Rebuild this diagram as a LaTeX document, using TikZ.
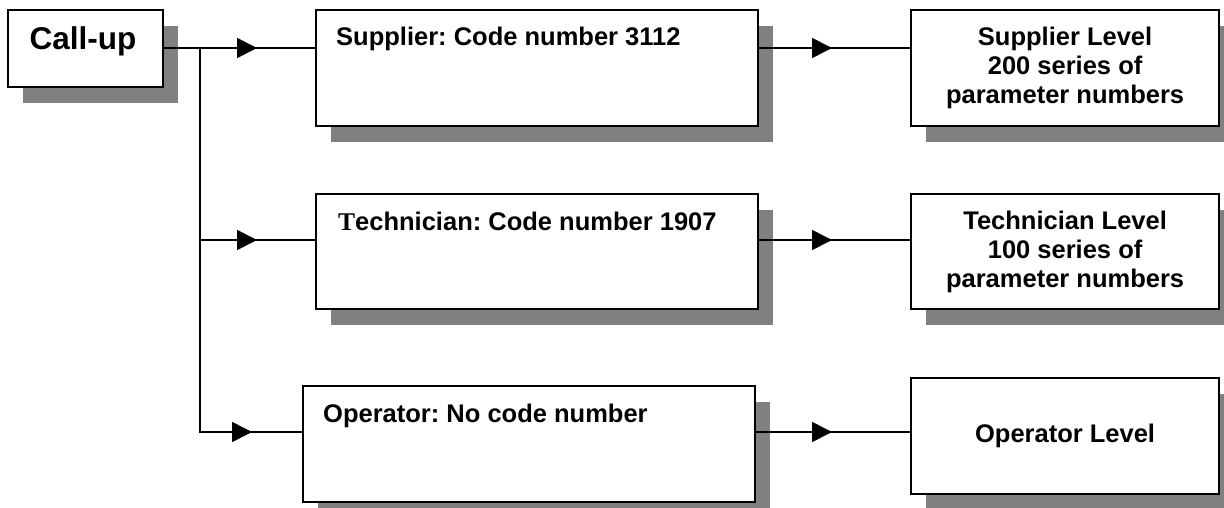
\documentclass[tikz,border=0pt]{standalone}
\usepackage{fontspec}
\setmainfont{Liberation Sans}
\newfontfamily\serifT{Liberation Serif}
\usetikzlibrary{shadows,decorations.markings,arrows.meta}
\frenchspacing
\begin{document}
\begin{tikzpicture}[x=1pt,y=-1pt,
  box/.style={draw, line width=2.2pt, fill=white, anchor=north west, inner sep=0pt,
    drop shadow={shadow xshift=15pt, shadow yshift=-16pt, fill=black!50, opacity=1}},
  lbl/.style={anchor=base west, inner sep=0pt, font=\bfseries\fontsize{25.5}{30}\selectfont},
  lvl/.style={box, align=center, font=\bfseries\fontsize{25.5}{29}\selectfont},
  conn/.style={line width=1.6pt},
  midarrow/.style={postaction={decorate}, decoration={markings,
    mark=at position #1 with {\arrow{Triangle[length=20pt,width=20pt]}}}},
]
\useasboundingbox (0,0) rectangle (1224,508);

% boxes
\node[box, minimum width=155pt, minimum height=77pt] (callup) at (7,9) {};
\node[box, minimum width=442pt, minimum height=116pt] (sup) at (315,9) {};
\node[box, minimum width=442pt, minimum height=115pt] (tec) at (315,193) {};
\node[box, minimum width=452pt, minimum height=116pt] (ope) at (302,385) {};
\node[lvl, minimum width=308pt, minimum height=116pt] (suplev) at (910,9) {Supplier Level\\200 series of\\parameter numbers};
\node[lvl, minimum width=308pt, minimum height=115pt] (teclev) at (910,193) {Technician Level\\100 series of\\parameter numbers};
\node[lvl, minimum width=308pt, minimum height=116pt] (opelev) at (910,377) {Operator Level};

% texts
\node[anchor=base, inner sep=0pt, font=\bfseries\fontsize{31.5}{36}\selectfont] (tcall) at (83,50) {Call-up};
\node[lbl] (tsup) at (336,46) {Supplier: Code number 3112};
\node[lbl] (ttec) at (338,230) {{\serifT T}echnician: Code number 1907};
\node[lbl] (tope) at (323,422) {Operator: No code number};

% connector levels
\coordinate (l1) at (0,48);
\coordinate (l2) at (0,240);
\coordinate (l3) at (0,432);
\coordinate (j1) at (200,48);
\coordinate (j2) at (200,240);

\draw[conn, midarrow=-58pt] (callup.east |- l1) -- (sup.west |- l1);
\draw[conn] (j1) -- (j2);
\draw[conn, midarrow=-58pt] (j2) -- (tec.west |- l2);
\draw[conn, midarrow=-50pt] (j2) |- (ope.west |- l3);

\draw[conn, midarrow=-78pt] (sup.east |- l1) -- (suplev.west |- l1);
\draw[conn, midarrow=-78pt] (tec.east |- l2) -- (teclev.west |- l2);
\draw[conn, midarrow=-78pt] (ope.east |- l3) -- (opelev.west |- l3);
\end{tikzpicture}
\end{document}
